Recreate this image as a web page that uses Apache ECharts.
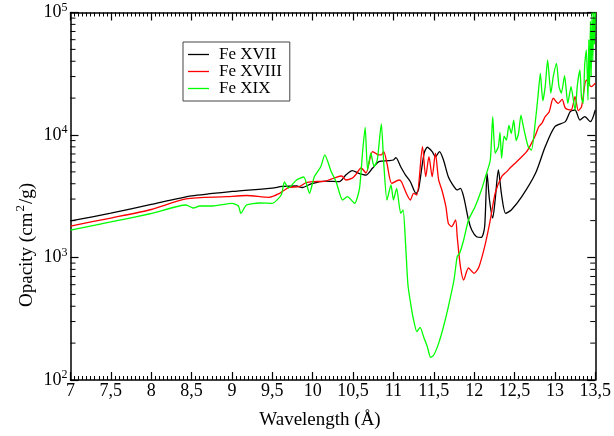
<!DOCTYPE html>
<html>
<head>
<meta charset="utf-8">
<script src="https://cdn.jsdelivr.net/npm/echarts@6/dist/echarts.min.js"></script>
<style>html,body{margin:0;padding:0;background:#fff;}#c{width:614px;height:436px;}</style>
</head>
<body>
<div id="c"></div>
<script>
// Fe XVII
var fe17X = [7.0,7.5,8.0,8.5,9.0,9.5,9.62,9.8,9.87,9.99,10.16,10.33,10.41,10.49,10.57,10.66,10.74,10.82,10.94,11.0,11.03,11.09,11.15,11.21,11.28,11.31,11.38,11.42,11.48,11.52,11.57,11.62,11.68,11.75,11.79,11.83,11.87,11.93,11.97,12.03,12.09,12.13,12.16,12.19,12.23,12.26,12.30,12.34,12.39,12.46,12.59,12.76,12.88,13.0,13.13,13.19,13.25,13.31,13.37,13.44,13.5];
var fe17Y = [1990,2300,2710,3180,3460,3690,3800,3835,3727,4018,4210,4157,4712,5116,4867,4712,5348,6054,6168,6252,6530,5510,4712,4157,3342,3557,7093,7940,7307,6653,7307,6252,4567,3784,3557,3672,3135,2024,1676,1479,1462,1784,4867,2947,2100,2947,5180,3237,2296,2442,3135,4867,8020,11690,12850,15500,16000,13250,14100,12850,16000];
// Fe XVIII
var fe18X = [7.0,7.5,8.0,8.43,8.93,9.18,9.46,9.59,9.71,9.83,9.92,10.0,10.16,10.29,10.36,10.41,10.49,10.53,10.6,10.66,10.74,10.78,10.82,10.85,10.88,10.92,10.98,11.07,11.1,11.16,11.21,11.25,11.29,11.36,11.40,11.44,11.48,11.52,11.56,11.60,11.65,11.68,11.72,11.77,11.79,11.83,11.87,11.93,12.0,12.06,12.14,12.20,12.26,12.34,12.40,12.46,12.52,12.59,12.65,12.71,12.76,12.80,12.84,12.88,12.93,12.98,13.04,13.09,13.13,13.20,13.25,13.29,13.33,13.39,13.45,13.5];
var fe18Y = [1807,2100,2465,3005,3135,3208,3100,3342,3742,3784,4080,4157,4210,4517,4627,4293,4440,4712,5380,4893,7307,7093,6870,6870,7307,5870,4033,4293,4157,3342,2947,3342,3237,8020,4567,6653,4567,7093,4293,3557,2600,1901,1784,2024,1479,841,655,821,743,841,1306,2024,3342,4567,5000,5510,6000,6653,7300,8550,10000,11690,12500,14100,15500,19950,18150,19500,16520,16000,20540,15800,17030,28120,24790,26420];
// Fe XIX
var fe19X = [7.0,7.5,8.0,8.43,8.52,8.6,8.76,9.0,9.08,9.11,9.18,9.34,9.5,9.61,9.65,9.7,9.8,9.89,9.96,10.02,10.1,10.15,10.23,10.29,10.37,10.43,10.52,10.58,10.62,10.65,10.68,10.72,10.76,10.8,10.85,10.88,10.92,10.97,11.0,11.04,11.09,11.12,11.15,11.18,11.22,11.25,11.29,11.33,11.38,11.42,11.46,11.5,11.56,11.62,11.68,11.75,11.79,11.82,11.87,11.93,12.01,12.09,12.14,12.2,12.23,12.26,12.3,12.32,12.34,12.37,12.4,12.43,12.46,12.49,12.52,12.55,12.58,12.61,12.64,12.67,12.71,12.76,12.79,12.82,12.85,12.88,12.91,12.95,12.98,13.02,13.05,13.08,13.12,13.16,13.2,13.25,13.28,13.31,13.33,13.35,13.37,13.39,13.41,13.42,13.43,13.44,13.45,13.46,13.47,13.48,13.49,13.5];
var fe19Y = [1676,1950,2287,2683,2535,2632,2632,2770,2632,2296,2683,2786,2770,3237,4133,3692,4293,4540,3342,4567,5510,6870,5015,4157,2947,3135,2770,3672,7545,11560,5180,7128,5510,6252,12300,5905,2947,3907,2947,3672,2296,2442,1306,597,396,309,248,269,219,187,153,160,199,272,396,655,1016,1082,1389,2024,2585,3557,4567,6252,14100,7093,8020,10500,6450,9800,9100,12000,10320,13250,9000,10320,14500,11690,9500,8020,7545,13250,20500,31900,19000,24790,40930,22000,29900,38460,25000,21900,30500,18150,24790,16000,26000,33950,20000,18150,38000,49400,19300,60000,25000,85000,30000,100000,40000,100000,55000,100000,70000];

var xTicks = [7,7.5,8,8.5,9,9.5,10,10.5,11,11.5,12,12.5,13,13.5];
var yTickExps = [2,3,4,5];
var yMinorTicks = [200,300,400,500,600,700,800,900,2000,3000,4000,5000,6000,7000,8000,9000,20000,30000,40000,50000,60000,70000,80000,90000];

function pairs(xs, ys){ return xs.map(function(x,i){ return [x, ys[i]]; }); }

var serif = 'Liberation Serif, DejaVu Serif, serif';
var chart = echarts.init(document.getElementById('c'));
var axisLine = {lineStyle:{color:'#000', width:1.5}};
chart.setOption({
  animation:false,
  backgroundColor:'#fff',
  grid:{left:70.5, right:17, top:12.5, bottom:56},
  legend:{
    data:['Fe XVII','Fe XVIII','Fe XIX'],
    orient:'vertical', left:183, top:42,
    icon:'rect',
    padding:[4,8,4,5], itemGap:0, itemWidth:21, itemHeight:1.3,
    borderColor:'#444', borderWidth:1, borderRadius:0,
    textStyle:{fontFamily:serif, fontSize:17, color:'#000', lineHeight:17, padding:[0,0,0,5]}
  },
  xAxis:[{
    type:'value', min:7, max:13.5, interval:0.5, position:'bottom',
    axisLine:axisLine,
    axisTick:{inside:true, length:8, lineStyle:{color:'#000', width:1.2}},
    minorTick:{show:true, splitNumber:10, length:4, lineStyle:{color:'#000', width:1}},
    splitLine:{show:false},
    axisLabel:{margin:2, fontFamily:serif, fontSize:18, color:'#000',
      formatter:function(v){ return String(v).replace('.', ','); }}
  },{
    type:'value', min:7, max:13.5, interval:0.5, position:'top',
    axisLine:axisLine,
    axisTick:{inside:true, length:8, lineStyle:{color:'#000', width:1.2}},
    minorTick:{show:true, splitNumber:10, length:4, lineStyle:{color:'#000', width:1}},
    splitLine:{show:false}, axisLabel:{show:false}
  }],
  yAxis:[{
    type:'log', logBase:10, min:100, max:100000, position:'left',
    axisLine:axisLine,
    axisTick:{inside:true, length:8, lineStyle:{color:'#000', width:1.2}},
    splitLine:{show:false},
    axisLabel:{margin:3, color:'#000',
      formatter:function(v){ return '{b|10}{s|' + Math.round(Math.log10(v)) + '}'; },
      rich:{b:{fontFamily:serif, fontSize:18, color:'#000'}, s:{fontFamily:serif, fontSize:12, color:'#000', verticalAlign:'top', padding:[0,0,10,0]}}
    }
  },{
    type:'log', logBase:10, min:100, max:100000, position:'right',
    axisLine:axisLine,
    axisTick:{inside:true, length:8, lineStyle:{color:'#000', width:1.2}},
    splitLine:{show:false}, axisLabel:{show:false}
  }],
  graphic:[
    {type:'text', x:320, y:420, style:{text:'Wavelength (Å)', font:'19px ' + serif, fill:'#000', align:'center', verticalAlign:'middle'}},
    {type:'text', x:27, y:245, rotation:Math.PI/2,
      style:{text:'{a|Opacity (cm}{s|2}{a|/g)}', align:'center', verticalAlign:'middle',
        rich:{a:{fontFamily:serif, fontSize:19, fill:'#000', color:'#000'}, s:{fontFamily:serif, fontSize:13, color:'#000', fill:'#000', padding:[0,1,12,1]}}}}
  ],
  series:[
    {name:'Fe XVII', type:'line', data:pairs(fe17X, fe17Y), symbol:'none', smooth:0.25, lineStyle:{color:'#000', width:1.3}, itemStyle:{color:'#000'}},
    {name:'Fe XVIII', type:'line', data:pairs(fe18X, fe18Y), symbol:'none', smooth:0.25, lineStyle:{color:'#ff0000', width:1.3}, itemStyle:{color:'#ff0000'}},
    {name:'Fe XIX', type:'line', data:pairs(fe19X, fe19Y), symbol:'none', smooth:0.2, lineStyle:{color:'#00ff00', width:1.3}, itemStyle:{color:'#00ff00'}},
    {type:'custom', silent:true, data:yMinorTicks.map(function(v){return [v];}),
      renderItem:function(params, api){
        var v = api.value(0);
        var l = api.coord([7, v]); var r = api.coord([13.5, v]);
        return {type:'group', children:[
          {type:'line', shape:{x1:l[0], y1:l[1], x2:l[0]+5, y2:l[1]}, style:{stroke:'#000', lineWidth:1}},
          {type:'line', shape:{x1:r[0]-5, y1:r[1], x2:r[0], y2:r[1]}, style:{stroke:'#000', lineWidth:1}}
        ]};
      },
      encode:{y:0}, z:5}
  ]
});
</script>
</body>
</html>
